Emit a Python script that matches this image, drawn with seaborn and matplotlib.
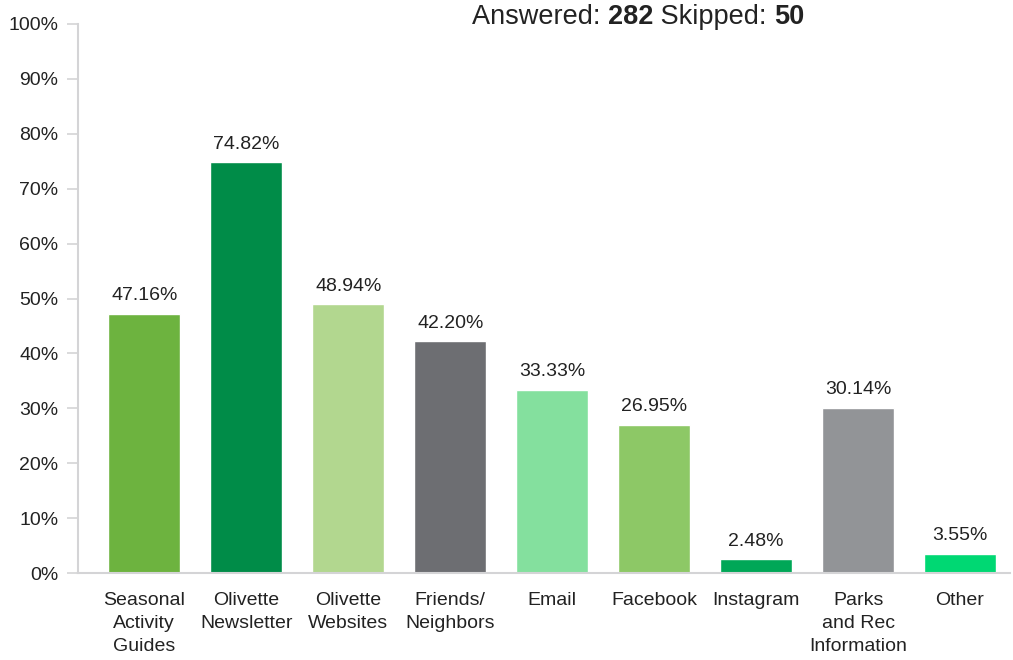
import matplotlib
matplotlib.use("Agg")
import matplotlib.pyplot as plt
import seaborn as sns
import pandas as pd

categories = ["Seasonal\nActivity\nGuides", "Olivette\nNewsletter", "Olivette\nWebsites",
              "Friends/\nNeighbors", "Email", "Facebook", "Instagram",
              "Parks\nand Rec\nInformation", "Other"]
values = [47.16, 74.82, 48.94, 42.20, 33.33, 26.95, 2.48, 30.14, 3.55]
colors = ["#6db33f", "#008c48", "#b2d78f", "#6d6e72", "#84e09e",
          "#8dc866", "#00a757", "#929497", "#00d873"]
y_ticks = list(range(0, 101, 10))
answered = 282
skipped = 50

sns.set_theme(style="white")
plt.rcParams["font.family"] = ["Liberation Sans", "DejaVu Sans"]

df = pd.DataFrame({"category": categories, "value": values})

fig = plt.figure(figsize=(10.13, 6.6), dpi=100)
ax = fig.add_axes([78 / 1013, 1 - 573 / 660, (1010 - 78) / 1013, (573 - 24) / 660])

sns.barplot(data=df, x="category", y="value", hue="category", palette=colors,
            legend=False, width=0.71, saturation=1, ax=ax)

for i, v in enumerate(values):
    ax.annotate(f"{v:.2f}%", (i, v), xytext=(0, 7), textcoords="offset points",
                ha="center", va="bottom", fontsize=14, color="#222222")

ax.set_xlim(-0.65, 8.49)
ax.set_ylim(0, 100)
ax.set_yticks(y_ticks)
ax.set_yticklabels([f"{t}%" for t in y_ticks], fontsize=14, color="#222222")
ax.set_xticks(range(len(categories)))
ax.set_xticklabels(categories, fontsize=14, color="#222222", linespacing=1.45)
ax.set_xlabel("")
ax.set_ylabel("")

for side in ["top", "right"]:
    ax.spines[side].set_visible(False)
for side in ["left", "bottom"]:
    ax.spines[side].set_color("#d4d4d6")
    ax.spines[side].set_linewidth(1.5)
ax.tick_params(axis="y", which="both", left=True, length=8, width=1.2,
               color="#d4d4d6", pad=6)
ax.tick_params(axis="x", which="both", bottom=False, pad=8)

# Header line with bold counts, placed piece by piece
fig.canvas.draw()
renderer = fig.canvas.get_renderer()
pieces = [("Answered: ", "normal"), (str(answered), "bold"),
          (" Skipped: ", "normal"), (str(skipped), "bold")]
x_px = 472
y_fig = 1 - 17 / 660
for s, w in pieces:
    t = fig.text(x_px / 1013, y_fig, s, fontsize=19.5, fontweight=w,
                 ha="left", va="center", color="#222222")
    bb = t.get_window_extent(renderer=renderer)
    x_px += bb.width

fig.savefig("out.png", dpi=100)
